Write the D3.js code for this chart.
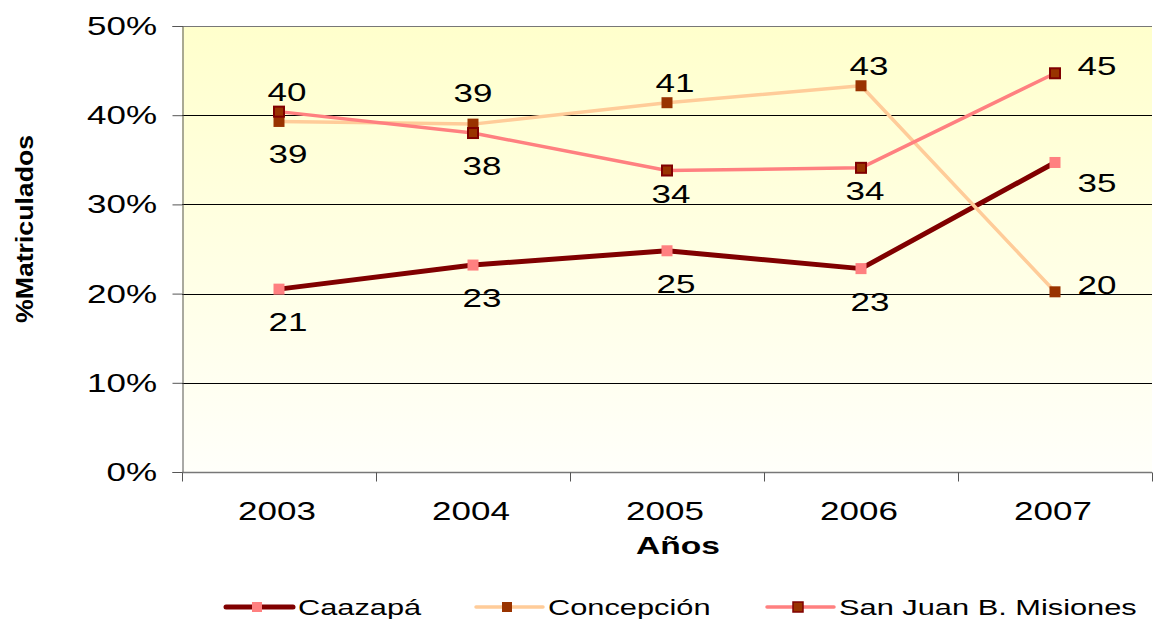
<!DOCTYPE html>
<html>
<head>
<meta charset="utf-8">
<script src="https://cdn.jsdelivr.net/npm/d3@7"></script>
<style>
  body { margin: 0; background: #fff; }
  text { font-family: "Liberation Sans", Arial, sans-serif; }
</style>
</head>
<body>
<div id="chart"></div>
<script>
// data
const years = ["2003", "2004", "2005", "2006", "2007"];
const caazapa = [20.5, 23.2, 24.8, 22.8, 34.7];
const concepcion = [39.3, 39.0, 41.4, 43.3, 20.2];
const sanJuan = [40.4, 38.0, 33.8, 34.1, 44.7];
const caazapaLabels = ["21", "23", "25", "23", "35"];
const concepcionLabels = ["39", "39", "41", "43", "20"];
const sanJuanLabels = ["40", "38", "34", "34", "45"];
const yTicks = [0, 10, 20, 30, 40, 50];

// where each value label sits relative to its marker
const caazapaPos = ["below", "below", "below", "below", "rightbelow"];
const concepcionPos = ["below", "highabove", "above", "above", "right"];
const sanJuanPos = ["above", "below", "nearbelow", "nearbelow", "right"];

const series = [
  { name: "Caazapá", values: caazapa, labels: caazapaLabels, pos: caazapaPos,
    line: "#800000", lw: 5, fill: "#ff8080", stroke: "none", ms: 11 },
  { name: "Concepción", values: concepcion, labels: concepcionLabels, pos: concepcionPos,
    line: "#ffcc99", lw: 3.5, fill: "#993300", stroke: "none", ms: 11 },
  { name: "San Juan B. Misiones", values: sanJuan, labels: sanJuanLabels, pos: sanJuanPos,
    line: "#ff8080", lw: 3.5, fill: "#993300", stroke: "#800000", ms: 10 }
];

const W = 1153, H = 619;
const margin = { top: 26, left: 182, right: 1, bottom: 147 };
const width = W - margin.left - margin.right,
      height = H - margin.top - margin.bottom;
const SX = 1.4; // the original text is drawn stretched sideways

const svg = d3.select("#chart").append("svg")
  .attr("width", W).attr("height", H);

// text stretched horizontally around its anchor point
function wideText(sel, x, y, txt, size, anchor) {
  return sel.append("text")
    .attr("transform", `translate(${x},${y}) scale(${SX},1)`)
    .attr("text-anchor", anchor || "middle")
    .attr("font-size", size).attr("fill", "#000").text(txt);
}

const defs = svg.append("defs");
const grad = defs.append("linearGradient")
  .attr("id", "bg").attr("x1", 0).attr("y1", 0).attr("x2", 0).attr("y2", 1);
grad.append("stop").attr("offset", "0%").attr("stop-color", "#ffffcc");
grad.append("stop").attr("offset", "100%").attr("stop-color", "#fffffa");

const g = svg.append("g").attr("transform", `translate(${margin.left},${margin.top})`);

const x = d3.scaleBand().domain(years).range([0, width]);
const y = d3.scaleLinear().domain([0, 50]).range([height, 0]);

g.append("rect").attr("width", width).attr("height", height).attr("fill", "url(#bg)");

// gridlines
g.selectAll(".grid").data(yTicks.slice(1, -1)).join("line")
  .attr("x1", 0).attr("x2", width)
  .attr("y1", d => Math.round(y(d)) + 0.5).attr("y2", d => Math.round(y(d)) + 0.5)
  .attr("stroke", "#000").attr("stroke-width", 1);
g.append("line").attr("x1", 0).attr("x2", width).attr("y1", 0.5).attr("y2", 0.5)
  .attr("stroke", "#777");

// y axis
const yAxis = g.append("g").attr("transform", "translate(0.5,0)")
  .call(d3.axisLeft(y).tickValues(yTicks).tickSize(10).tickFormat(""));
yAxis.select(".domain").attr("stroke", "#555");
yAxis.selectAll(".tick line").attr("stroke", "#555");
yTicks.forEach(t => {
  wideText(g, -25, y(t), t + "%", 25, "end").attr("dy", "0.36em");
});

// x axis with ticks between categories
const xAxis = g.append("g").attr("transform", `translate(0,${height + 0.5})`);
xAxis.append("line").attr("x1", 0).attr("x2", width).attr("stroke", "#777").attr("stroke-width", 1.5);
xAxis.selectAll(".xt").data(d3.range(years.length + 1)).join("line")
  .attr("x1", i => Math.round(i * x.bandwidth()) + 0.5)
  .attr("x2", i => Math.round(i * x.bandwidth()) + 0.5)
  .attr("y1", 0).attr("y2", 9).attr("stroke", "#555");
years.forEach(yr => {
  wideText(xAxis, x(yr) + x.bandwidth() / 2 - 2, 47, yr, 25);
});

// axis titles
wideText(svg, 678, 554, "Años", 24).attr("font-weight", "bold");
svg.append("text").attr("transform", "translate(33,229) rotate(-90)")
  .attr("text-anchor", "middle").attr("font-size", 24).attr("font-weight", "bold")
  .attr("textLength", 188).attr("lengthAdjust", "spacingAndGlyphs")
  .text("%Matriculados");

const cx = (d, i) => x(years[i]) + x.bandwidth() / 2;
const line = d3.line().x((d, i) => cx(d, i)).y(d => y(d));

series.forEach(s => {
  g.append("path").datum(s.values).attr("d", line)
    .attr("fill", "none").attr("stroke", s.line).attr("stroke-width", s.lw)
    .attr("stroke-linejoin", "round");
});
series.forEach(s => {
  g.selectAll(null).data(s.values).join("rect")
    .attr("x", (d, i) => cx(d, i) - s.ms / 2).attr("y", d => y(d) - s.ms / 2)
    .attr("width", s.ms).attr("height", s.ms)
    .attr("fill", s.fill).attr("stroke", s.stroke).attr("stroke-width", 2);
});

// value labels
const offs = {
  above: [8, -20], highabove: [0, -31], below: [9, 33], nearbelow: [4, 23],
  right: [42, -7], rightbelow: [42, 21]
};
series.forEach(s => {
  s.values.forEach((v, i) => {
    const o = offs[s.pos[i]];
    wideText(g, cx(v, i) + o[0], y(v) + o[1], s.labels[i], 25).attr("dy", "0.36em");
  });
});

// legend
const legendX = [226, 476, 767];
const lg = svg.append("g").attr("transform", "translate(0,607)");
series.forEach((s, i) => {
  const item = lg.append("g").attr("transform", `translate(${legendX[i]},0)`);
  item.append("line").attr("x1", 0).attr("x2", 67)
    .attr("stroke", s.line).attr("stroke-width", s.lw).attr("stroke-linecap", "round");
  item.append("rect").attr("x", 31 - 5).attr("y", -5).attr("width", 10).attr("height", 10)
    .attr("fill", s.fill).attr("stroke", s.stroke).attr("stroke-width", 1.5);
  wideText(item, 72, 0, s.name, 22, "start").attr("dy", "0.36em");
});
</script>
</body>
</html>
